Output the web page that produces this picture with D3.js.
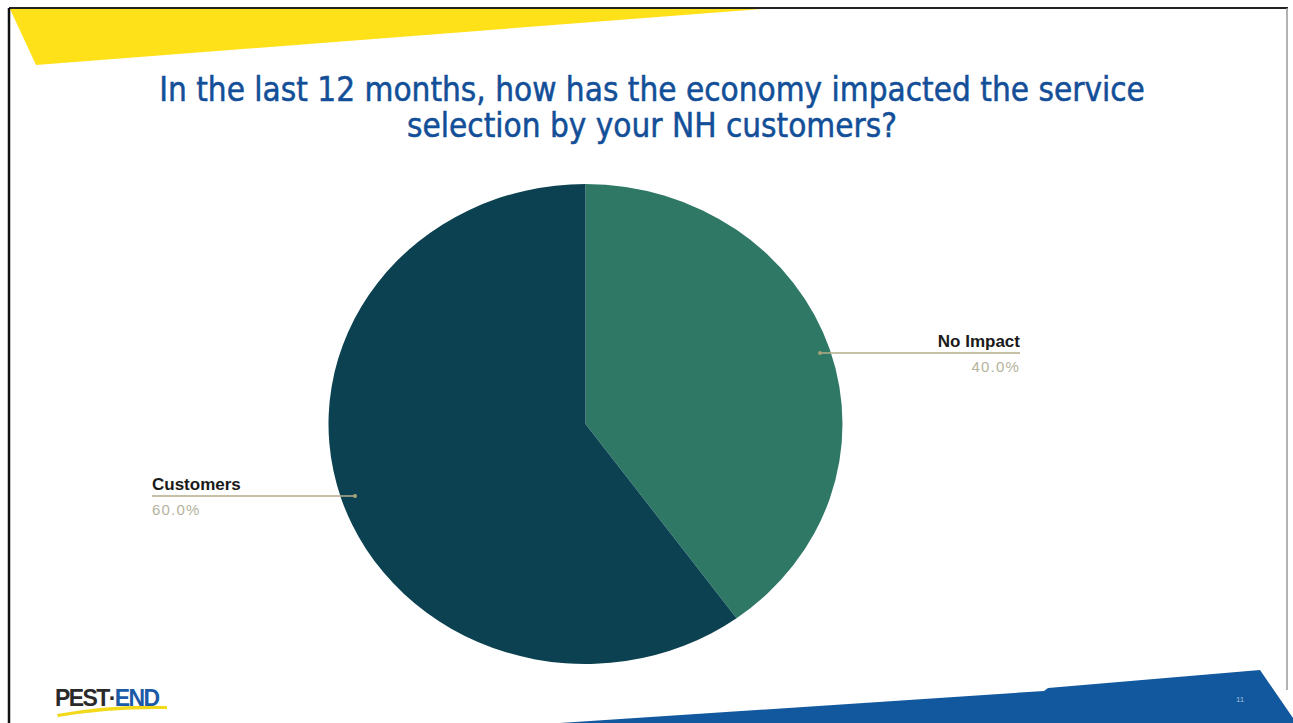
<!DOCTYPE html>
<html><head><meta charset="utf-8">
<script src="https://cdn.jsdelivr.net/npm/d3@7"></script>
<style>html,body{margin:0;padding:0;background:#fff;overflow:hidden}</style>
</head><body>
<svg id="c" width="1293" height="723"></svg>
<script>
const categories = ["No Impact", "Customers"];
const values = [40, 60];
const percentLabels = ["40.0%", "60.0%"];
const colors = ["#2e7865", "#0b4150"];
const titleLines = ["In the last 12 months, how has the economy impacted the service", "selection by your NH customers?"];

const svg = d3.select("#c");
// slide frame
svg.append("rect").attr("x",0).attr("y",0).attr("width",1293).attr("height",723).attr("fill","#fff");
svg.append("polygon").attr("points","10,9 762,9 36,65").attr("fill","#ffe11a");
svg.append("line").attr("x1",9).attr("y1",8).attr("x2",1288).attr("y2",8).attr("stroke","#222").attr("stroke-width",2);
svg.append("line").attr("x1",9).attr("y1",8).attr("x2",9).attr("y2",723).attr("stroke","#111").attr("stroke-width",2.5);
svg.append("line").attr("x1",1287).attr("y1",8).attr("x2",1287).attr("y2",690).attr("stroke","#999").attr("stroke-width",1.5);
svg.append("polygon").attr("points","560,723 1044,691 1048,688 1260,670 1293,718 1293,723").attr("fill","#12589e");
svg.append("text").attr("x",1236).attr("y",702).attr("font-size",8).attr("fill","#9fbcd8").attr("font-family","Liberation Sans").text("11");

// title
const title = svg.append("text").attr("text-anchor","middle").attr("fill","#134f98")
  .attr("stroke","#134f98").attr("stroke-width",0.5)
  .attr("font-family","'DejaVu Sans Condensed', 'DejaVu Sans', sans-serif").attr("font-size",33);
titleLines.forEach((t,i)=>{
  title.append("tspan").attr("x",652).attr("y",101+i*36).text(t);
});

// pie
const cx = 585.5, cy = 424, r = 240, sx = 257/240;
const pie = d3.pie().sort(null).value(d=>d)(values);
const arc = d3.arc().innerRadius(0).outerRadius(r);
const g = svg.append("g").attr("transform",`translate(${cx},${cy}) scale(${sx},1)`);
g.selectAll("path").data(pie).enter().append("path").attr("d",arc).attr("fill",(d,i)=>colors[i]);

// labels
const labelSpec = [
  {dot:[820,353], lineEnd:1020, anchor:"end", tx:1020},
  {dot:[355,496], lineEnd:152, anchor:"start", tx:152}
];
labelSpec.forEach((s,i)=>{
  svg.append("line").attr("x1",s.dot[0]).attr("y1",s.dot[1]).attr("x2",s.lineEnd).attr("y2",s.dot[1])
    .attr("stroke","#b3ad88").attr("stroke-width",1.5);
  svg.append("circle").attr("cx",s.dot[0]).attr("cy",s.dot[1]).attr("r",2).attr("fill","#a7a27c");
  svg.append("text").attr("x",s.tx).attr("y",s.dot[1]-6).attr("text-anchor",s.anchor)
    .attr("font-family","'Liberation Sans', Arial, sans-serif").attr("font-weight","bold").attr("font-size",17)
    .attr("fill","#1a1a1a").text(categories[i]);
  svg.append("text").attr("x",s.tx).attr("y",s.dot[1]+19).attr("text-anchor",s.anchor)
    .attr("font-family","'Liberation Sans', Arial, sans-serif").attr("font-size",15).attr("letter-spacing",1.2)
    .attr("fill","#b5b39c").text(percentLabels[i]);
});

// logo
svg.append("path").attr("d","M57,714 Q110,704 167,706 L167,709 Q110,708 58,717 Z").attr("fill","#f2d91a");
const logo = svg.append("text").attr("x",55).attr("y",706).attr("font-family","'Liberation Sans', Arial, sans-serif")
  .attr("font-weight","bold").attr("font-size",23).attr("letter-spacing",-1.6);
logo.append("tspan").attr("fill","#2a2a2a").text("PEST·");
logo.append("tspan").attr("fill","#1b5aa6").text("END");
</script>
</body></html>
